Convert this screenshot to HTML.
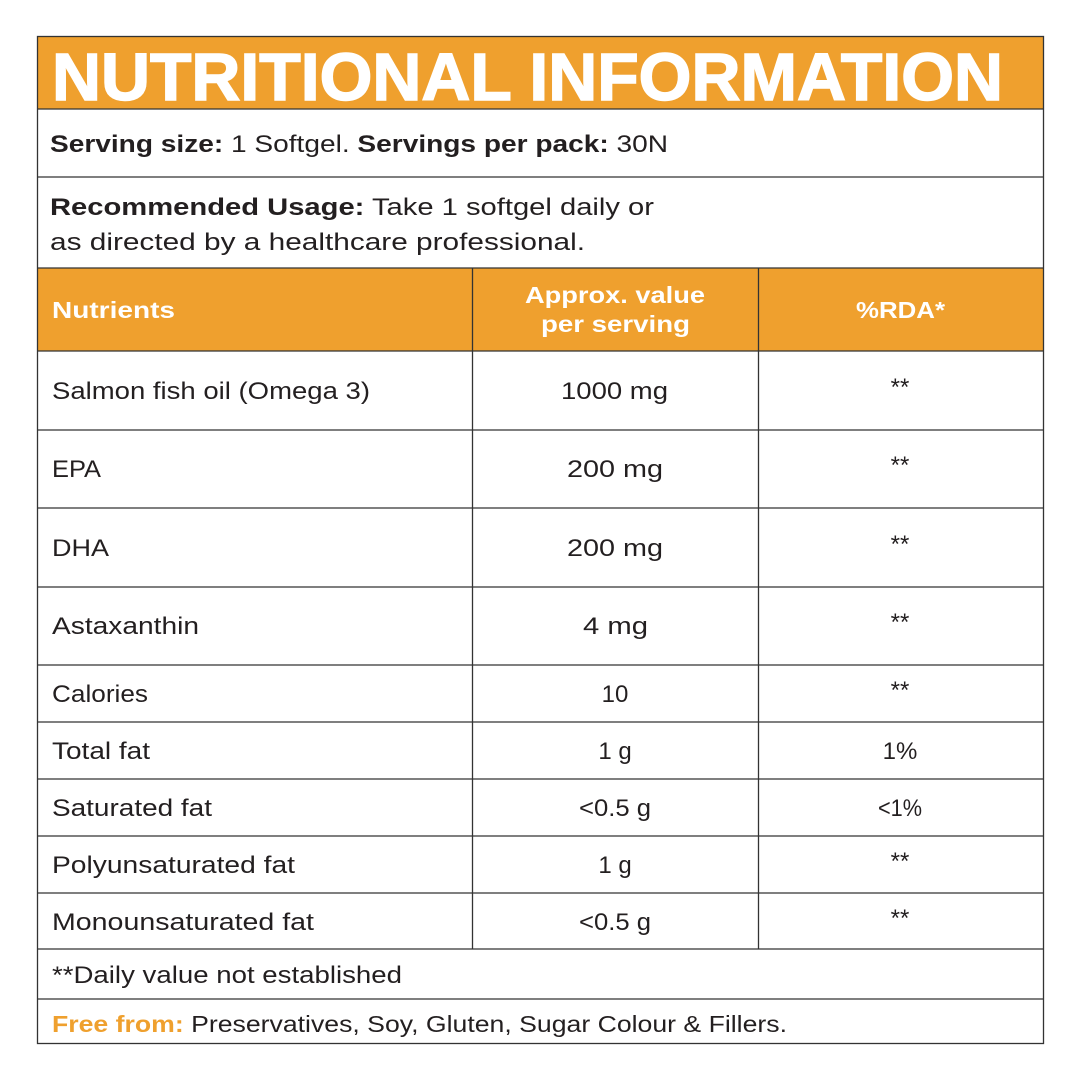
<!DOCTYPE html>
<html><head><meta charset="utf-8"><style>
html,body{margin:0;padding:0;background:#fff;width:1080px;height:1080px;overflow:hidden}
svg{display:block}
text{font-family:"Liberation Sans",sans-serif;fill:#231f20;font-size:24px}
.b{font-weight:bold}
.w{fill:#fff}
.c{text-anchor:middle}
</style></head><body>
<svg width="1080" height="1080" viewBox="0 0 1080 1080">
<rect x="37" y="36" width="1006" height="73" fill="#EFA02E"/>
<rect x="37" y="268" width="1006" height="83" fill="#EFA02E"/>
<g stroke="#333" stroke-width="1.3" fill="none">
<rect x="37.5" y="36.5" width="1006" height="1007"/>
<line x1="37" y1="109" x2="1043" y2="109"/>
<line x1="37" y1="177" x2="1043" y2="177"/>
<line x1="37" y1="268" x2="1043" y2="268"/>
<line x1="37" y1="351" x2="1043" y2="351"/>
<line x1="37" y1="430" x2="1043" y2="430"/>
<line x1="37" y1="508" x2="1043" y2="508"/>
<line x1="37" y1="587" x2="1043" y2="587"/>
<line x1="37" y1="665" x2="1043" y2="665"/>
<line x1="37" y1="722" x2="1043" y2="722"/>
<line x1="37" y1="779" x2="1043" y2="779"/>
<line x1="37" y1="836" x2="1043" y2="836"/>
<line x1="37" y1="893" x2="1043" y2="893"/>
<line x1="37" y1="949" x2="1043" y2="949"/>
<line x1="37" y1="999" x2="1043" y2="999"/>
<line x1="472.5" y1="268" x2="472.5" y2="949"/>
<line x1="758.5" y1="268" x2="758.5" y2="949"/>
</g>
<text x="52" y="100" class="b w" style="font-size:67px;stroke:#fff;stroke-width:1.5" textLength="951" lengthAdjust="spacingAndGlyphs">NUTRITIONAL INFORMATION</text>
<text x="50" y="152" textLength="618" lengthAdjust="spacingAndGlyphs"><tspan class="b">Serving size:</tspan> 1 Softgel. <tspan class="b">Servings per pack:</tspan> 30N</text>
<text x="50" y="215" textLength="604" lengthAdjust="spacingAndGlyphs"><tspan class="b">Recommended Usage:</tspan> Take 1 softgel daily or</text>
<text x="50" y="250" textLength="535" lengthAdjust="spacingAndGlyphs">as directed by a healthcare professional.</text>
<text x="52" y="318" class="b w" style="font-size:23px" textLength="123" lengthAdjust="spacingAndGlyphs">Nutrients</text>
<text x="525" y="303" class="b w" style="font-size:23px" textLength="180" lengthAdjust="spacingAndGlyphs">Approx. value</text>
<text x="541" y="332" class="b w" style="font-size:23px" textLength="149" lengthAdjust="spacingAndGlyphs">per serving</text>
<text x="856" y="318" class="b w" style="font-size:23px" textLength="89" lengthAdjust="spacingAndGlyphs">%RDA*</text>
<g>
<text x="52" y="399" textLength="318" lengthAdjust="spacingAndGlyphs">Salmon fish oil (Omega 3)</text>
<text x="561" y="399" textLength="107" lengthAdjust="spacingAndGlyphs">1000 mg</text><text x="900" y="395" class="c">**</text>
<text x="52" y="477" textLength="49" lengthAdjust="spacingAndGlyphs">EPA</text><text x="567" y="477" textLength="96" lengthAdjust="spacingAndGlyphs">200 mg</text><text x="900" y="473" class="c">**</text>
<text x="52" y="556" textLength="57" lengthAdjust="spacingAndGlyphs">DHA</text><text x="567" y="556" textLength="96" lengthAdjust="spacingAndGlyphs">200 mg</text><text x="900" y="552" class="c">**</text>
<text x="52" y="634" textLength="147" lengthAdjust="spacingAndGlyphs">Astaxanthin</text><text x="583" y="634" textLength="65" lengthAdjust="spacingAndGlyphs">4 mg</text><text x="900" y="630" class="c">**</text>
<text x="52" y="702" textLength="96" lengthAdjust="spacingAndGlyphs">Calories</text><text x="615" y="702" class="c">10</text><text x="900" y="698" class="c">**</text>
<text x="52" y="759" textLength="98" lengthAdjust="spacingAndGlyphs">Total fat</text><text x="615" y="759" class="c">1 g</text><text x="900" y="759" class="c">1%</text>
<text x="52" y="816" textLength="160" lengthAdjust="spacingAndGlyphs">Saturated fat</text><text x="579" y="816" textLength="72" lengthAdjust="spacingAndGlyphs">&lt;0.5 g</text><text x="878" y="816" textLength="44" lengthAdjust="spacingAndGlyphs">&lt;1%</text>
<text x="52" y="873" textLength="243" lengthAdjust="spacingAndGlyphs">Polyunsaturated fat</text><text x="615" y="873" class="c">1 g</text><text x="900" y="869" class="c">**</text>
<text x="52" y="930" textLength="262" lengthAdjust="spacingAndGlyphs">Monounsaturated fat</text><text x="579" y="930" textLength="72" lengthAdjust="spacingAndGlyphs">&lt;0.5 g</text><text x="900" y="926" class="c">**</text>
</g>
<text x="52" y="983" textLength="350" lengthAdjust="spacingAndGlyphs">**Daily value not established</text>
<text x="52" y="1032" style="font-size:23px" textLength="735" lengthAdjust="spacingAndGlyphs"><tspan class="b" style="fill:#EFA02E">Free from:</tspan> Preservatives, Soy, Gluten, Sugar Colour &amp; Fillers.</text>
</svg>
</body></html>
